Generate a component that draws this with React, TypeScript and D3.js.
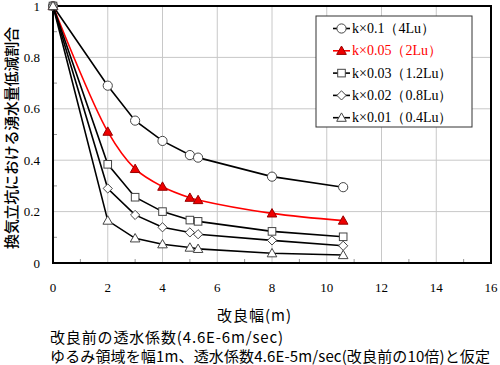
import * as d3 from "d3";
import React from "react";

// x = 改良幅(m)
const widths = [0, 2, 3, 4, 5, 5.3, 8, 10.6];
const k01 = [1, 0.69, 0.554, 0.475, 0.42, 0.41, 0.336, 0.295];
const k005 = [1, 0.511, 0.366, 0.297, 0.254, 0.245, 0.193, 0.165];
const k003 = [1, 0.384, 0.256, 0.2, 0.167, 0.162, 0.123, 0.102];
const k002 = [1, 0.29, 0.187, 0.139, 0.119, 0.112, 0.088, 0.067];
const k001 = [1, 0.165, 0.096, 0.073, 0.06, 0.055, 0.038, 0.031];

const seriesNames = ["k×0.1（4Lu）", "k×0.05（2Lu）", "k×0.03（1.2Lu）", "k×0.02（0.8Lu）", "k×0.01（0.4Lu）"];
const seriesValues = [k01, k005, k003, k002, k001];
const markers = ["circle", "filledTriangle", "square", "diamond", "triangle"];

const xTicks = [0, 2, 4, 6, 8, 10, 12, 14, 16];
const yTicks = [0, 0.2, 0.4, 0.6, 0.8, 1];

const xLabel = "改良幅(m)";
const yLabel = "換気立坑における湧水量低減割合";
const note1 = "改良前の透水係数(4.6E-6m/sec)";
const note2 = "ゆるみ領域を幅1m、透水係数4.6E-5m/sec(改良前の10倍)と仮定";

const W = 500, H = 365;
const m = { l: 53, r: 491, t: 6, b: 263 };
const serif = "'Liberation Serif', 'Times New Roman', serif";
const jp = "'Noto Sans CJK JP', sans-serif";

function Marker({ kind, x, y }: { kind: string; x: number; y: number }) {
  const st = { fill: "#fff", stroke: "#444", strokeWidth: 1 };
  if (kind === "circle") return <circle cx={x} cy={y} r={4.6} {...st} />;
  if (kind === "square") return <rect x={x - 3.8} y={y - 3.8} width={7.6} height={7.6} {...st} />;
  if (kind === "diamond") {
    const s = 4.6;
    return <path d={`M${x},${y - s}L${x + s},${y}L${x},${y + s}L${x - s},${y}Z`} {...st} />;
  }
  const s = 4.8;
  const d = `M${x},${y - s}L${x + s},${y + s * 0.75}L${x - s},${y + s * 0.75}Z`;
  if (kind === "filledTriangle") return <path d={d} fill="#e00" stroke="#900" strokeWidth={1} />;
  return <path d={d} {...st} />;
}

export default function App() {
  const x = d3.scaleLinear().domain([0, 16]).range([m.l, m.r]);
  const y = d3.scaleLinear().domain([0, 1]).range([m.b, m.t]);

  const minorX = d3.range(1, 16, 2);
  const minorY = d3.range(0.1, 1, 0.2);

  return (
    <svg width={W} height={H} style={{ position: "absolute", left: 0, top: 0, background: "#fff" }}>
      {/* grid */}
      <g stroke="#c8c8c8" strokeWidth={1}>
        {xTicks.slice(1, -1).map((t) => (
          <line key={"gx" + t} x1={x(t)} x2={x(t)} y1={m.t} y2={m.b} />
        ))}
        {yTicks.slice(1, -1).map((t) => (
          <line key={"gy" + t} x1={m.l} x2={m.r} y1={y(t)} y2={y(t)} />
        ))}
      </g>
      {/* minor ticks inside */}
      <g stroke="#999" strokeWidth={1}>
        {minorX.map((t) => (
          <line key={"mx" + t} x1={x(t)} x2={x(t)} y1={m.b} y2={m.b - 4} />
        ))}
        {minorY.map((t) => (
          <line key={"my" + t} x1={m.l} x2={m.l + 4} y1={y(t)} y2={y(t)} />
        ))}
      </g>
      <rect x={m.l} y={m.t} width={m.r - m.l} height={m.b - m.t} fill="none" stroke="#000" strokeWidth={2} />

      {/* tick labels */}
      <g fontFamily={serif} fontSize={13} fill="#000">
        {xTicks.map((t) => (
          <text key={"xt" + t} x={x(t)} y={292} textAnchor="middle">{t}</text>
        ))}
        {yTicks.map((t) => (
          <text key={"yt" + t} x={40} y={y(t) + 4.5} textAnchor="end">{t}</text>
        ))}
      </g>

      {/* series */}
      {seriesValues.map((vals, i) => {
        const pts = widths.map((w, j) => [x(w), y(vals[j])] as [number, number]);
        const red = i === 1;
        const line = d3.line().curve(red ? d3.curveCatmullRom : d3.curveLinear);
        return (
          <g key={"s" + i}>
            <path d={line(pts) ?? ""} fill="none" stroke={red ? "#f00" : "#000"} strokeWidth={1.6} />
            {pts.map((p, j) => (
              <Marker key={j} kind={markers[i]} x={p[0]} y={p[1]} />
            ))}
          </g>
        );
      })}

      {/* legend */}
      <g>
        <rect x={316} y={16} width={156} height={111} fill="#fff" stroke="#333" strokeWidth={1} />
        {seriesNames.map((name, i) => {
          const ly = 28.5 + i * 22.3;
          const red = i === 1;
          return (
            <g key={"lg" + i}>
              <line x1={333} x2={350} y1={ly} y2={ly} stroke={red ? "#f00" : "#000"} strokeWidth={1.6} />
              <Marker kind={markers[i]} x={341.5} y={ly} />
              <text x={352} y={ly + 4.5} fontFamily={serif} fontSize={14} fill={red ? "#f00" : "#000"}>{name}</text>
            </g>
          );
        })}
      </g>

      {/* axis titles */}
      <text x={217} y={321} textLength={74} lengthAdjust="spacing" fontFamily={jp} fontSize={15} fill="#000">{xLabel}</text>
      <text transform={`translate(16.5,${249}) rotate(-90)`} textLength={222} lengthAdjust="spacing" fontFamily={jp} fontSize={15} fontWeight={500} fill="#000">{yLabel}</text>
      <text x={50} y={343} textLength={233} lengthAdjust="spacing" fontFamily={jp} fontSize={15} fill="#000">{note1}</text>
      <text x={50} y={362} textLength={440} lengthAdjust="spacing" fontFamily={jp} fontSize={15} fill="#000">{note2}</text>
    </svg>
  );
}
